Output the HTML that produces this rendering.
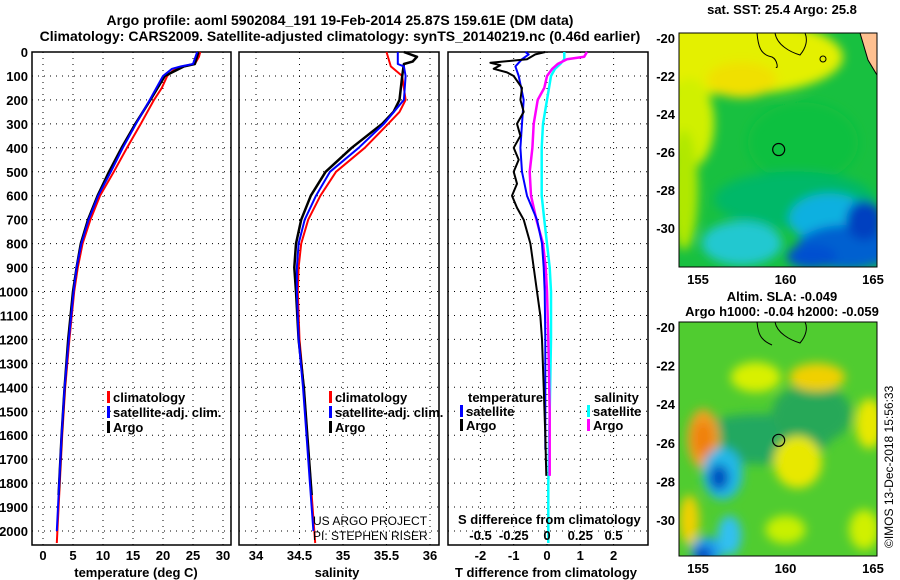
<!DOCTYPE html>
<html><head><meta charset="utf-8"><style>
html,body{margin:0;padding:0;background:#fff;}
svg{display:block;font-family:"Liberation Sans",sans-serif;font-weight:bold;font-size:13px;}
</style></head><body>
<svg id="fig" width="900" height="580" viewBox="0 0 900 580" xmlns="http://www.w3.org/2000/svg">
<defs>
<filter id="blur1" x="-20%" y="-20%" width="140%" height="140%"><feGaussianBlur stdDeviation="5"/></filter>
<clipPath id="clipMap1"><rect x="679" y="33" width="198" height="234"/></clipPath>
<clipPath id="clipMap2"><rect x="679" y="322" width="198" height="234"/></clipPath>
</defs>
<text x="340" y="25" text-anchor="middle" font-size="14">Argo profile: aoml 5902084_191 19-Feb-2014 25.87S 159.61E (DM data)</text>
<text x="340" y="41" text-anchor="middle" font-size="14">Climatology: CARS2009. Satellite-adjusted climatology: synTS_20140219.nc (0.46d earlier)</text>
<g id="panels"></g>
<g id="maps"></g>
</svg>
<script>
// ---------- data ----------
const depthTicks=[0,100,200,300,400,500,600,700,800,900,1000,1100,1200,1300,1400,1500,1600,1700,1800,1900,2000];
const tempTicks=[0,5,10,15,20,25,30];
const salTicks=[34,34.5,35,35.5,36];
const tdiffTicks=[-2,-1,0,1,2];
const sdiffTicks=[-0.5,-0.25,0,0.25,0.5];
const sdiffTickLabels=["-0.5","-0.25","0","0.25","0.5"];

const tClimDepth=[0,20,50,60,70,100,150,200,300,400,500,600,700,800,900,1000,1200,1400,1600,1800,2000,2050];
const tClimVal=[26.2,26.0,25.3,23.5,22,20.7,19.8,18.5,16.3,14,11.8,9.5,7.9,6.6,5.8,5.2,4.4,3.7,3.2,2.8,2.4,2.3];
const tSatDepth=[0,50,60,70,100,200,300,400,500,600,700,800,900,1000,1200,1400,1600,1800,2000];
const tSatVal=[25.7,25.0,23,21.5,20,17.8,15.5,13.3,11.3,9.2,7.6,6.4,5.6,5.1,4.3,3.6,3.1,2.7,2.3];
const tArgoDepth=[0,50,60,100,200,300,400,500,600,700,800,900,1000,1200,1400,1600,1800,1850];
const tArgoVal=[25.9,25.3,23.5,20.3,17.9,15.4,13.1,11.0,9.1,7.5,6.3,5.6,5.0,4.2,3.6,3.1,2.7,2.6];

const sClimDepth=[0,60,100,200,250,300,400,500,600,700,800,900,1000,1200,1400,1600,1800,2000,2050];
const sClimVal=[35.5,35.55,35.68,35.72,35.65,35.52,35.25,34.92,34.74,34.6,34.52,34.49,34.48,34.5,34.55,34.59,34.63,34.67,34.68];
const sSatDepth=[0,50,60,100,200,300,400,500,600,700,800,900,1000,1200,1400,1600,1800,2000];
const sSatVal=[35.63,35.63,35.7,35.72,35.7,35.47,35.18,34.85,34.69,34.56,34.49,34.47,34.47,34.49,34.54,34.58,34.62,34.66];
const sArgoDepth=[0,20,40,50,100,200,250,300,400,500,600,700,800,900,1000,1200,1400,1600,1800,1850];
const sArgoVal=[35.7,35.85,35.8,35.7,35.68,35.65,35.58,35.45,35.1,34.8,34.63,34.52,34.46,34.44,34.46,34.49,34.55,34.59,34.63,34.64];

const dTSatDepth=[0,10,30,60,100,200,300,400,500,600,700,800,900,1000,1200,1400,1660];
const dTSatVal=[-0.65,-0.55,-0.75,-0.95,-0.85,-0.7,-0.75,-0.8,-0.75,-0.6,-0.3,-0.15,-0.1,-0.07,-0.05,-0.05,-0.05];
const dTArgoDepth=[0,10,30,45,55,70,85,100,150,200,250,300,350,400,450,500,550,600,650,700,800,900,1000,1100,1200,1400,1600,1770];
const dTArgoVal=[-0.05,-0.35,-0.6,-1.7,-1.4,-1.6,-1.2,-1.0,-0.75,-0.8,-0.7,-0.9,-0.8,-1.0,-0.85,-1.0,-0.9,-1.05,-0.9,-0.7,-0.5,-0.4,-0.3,-0.2,-0.15,-0.1,-0.05,-0.02];
const dSSatDepth=[0,30,50,70,100,200,300,400,500,600,700,800,900,1000,1200,1500,1800,2050];
const dSSatVal=[0.13,0.13,0.1,0.06,0.03,0.0,-0.03,-0.04,-0.04,-0.04,-0.02,0.0,0.02,0.03,0.03,0.02,0.01,0.01];
const dSArgoDepth=[0,20,30,50,70,100,150,200,300,400,500,600,700,800,900,1000,1200,1500,1770];
const dSArgoVal=[0.3,0.28,0.15,0.08,0.04,0.0,-0.02,-0.07,-0.1,-0.11,-0.13,-0.12,-0.08,-0.03,-0.01,0.0,0.01,0.02,0.02];

const mapLonTicks=[155,160,165];
const mapLatTicks=[-20,-22,-24,-26,-28,-30];
const floatLon=159.61, floatLat=-25.87;

// ---------- helpers ----------
const NS="http://www.w3.org/2000/svg";
const P=document.getElementById('panels');
const M=document.getElementById('maps');
function mk(tag,attrs,parent){const e=document.createElementNS(NS,tag);for(const k in attrs)e.setAttribute(k,attrs[k]);(parent||P).appendChild(e);return e;}
const Y0=52,Y1=545;
const yD=d=>Y0+d*0.2395;
const panels=[
 {name:'temperature',x0:32,x1:231,sx:v=>43+v*6,ticks:tempTicks},
 {name:'salinity',x0:239,x1:439,sx:v=>256+(v-34)*87,ticks:salTicks},
 {name:'difference',x0:448,x1:648,sx:v=>547+v*33.3,ticks:tdiffTicks}
];
const sxS=v=>547+v*133;

panels.forEach((p,i)=>{
 const g=mk('g',{});
 
 
 depthTicks.forEach(d=>{const l=mk('line',{x1:p.x0,x2:p.x1,y1:yD(d),y2:yD(d),stroke:'#000','stroke-width':1,'stroke-dasharray':'1,5'},g);
  });
 p.ticks.forEach(v=>{const l=mk('line',{x1:p.sx(v),x2:p.sx(v),y1:Y0,y2:Y1,stroke:'#000','stroke-width':1,'stroke-dasharray':'1,5'},g);
  
  const t=mk('text',{x:p.sx(v),y:560,'text-anchor':'middle'},g);t.textContent=v;
  });
 const r=mk('rect',{x:p.x0,y:Y0,width:p.x1-p.x0,height:Y1-Y0,fill:'none',stroke:'#000','stroke-width':1.5},g);
 
});
depthTicks.forEach(d=>{const t=mk('text',{x:28,y:yD(d)+5,'text-anchor':'end'});t.textContent=d;
 });

function line(depths,vals,sx,color,w,name){
 const pts=depths.map((d,i)=>sx(vals[i]).toFixed(1)+','+yD(d).toFixed(1)).join(' ');
 const l=mk('polyline',{points:pts,fill:'none',stroke:color,'stroke-width':w,'stroke-linejoin':'round'});
 
}
const p1=panels[0].sx,p2=panels[1].sx,p3=panels[2].sx;
line(tClimDepth,tClimVal,p1,'#f00',2,'temperature-climatology-line');
line(tArgoDepth,tArgoVal,p1,'#000',2.5,'temperature-argo-line');
line(tSatDepth,tSatVal,p1,'#00f',2,'temperature-satellite-line');
line(sClimDepth,sClimVal,p2,'#f00',2,'salinity-climatology-line');
line(sArgoDepth,sArgoVal,p2,'#000',2.5,'salinity-argo-line');
line(sSatDepth,sSatVal,p2,'#00f',2,'salinity-satellite-line');
line(dSSatDepth,dSSatVal,sxS,'#0ff',2.5,'salinity-diff-satellite-line');
line(dSArgoDepth,dSArgoVal,sxS,'#f0f',2.5,'salinity-diff-argo-line');
line(dTSatDepth,dTSatVal,p3,'#00f',2,'temperature-diff-satellite-line');
line(dTArgoDepth,dTArgoVal,p3,'#000',2,'temperature-diff-argo-line');

function legend(x,y,color,label,name){
 const b=mk('rect',{x:x,y:y-11,width:3,height:12,fill:color});
 
 const t=mk('text',{x:x+6,y:y});t.textContent=label;
 
}
legend(107,402,'#f00','climatology','legend-climatology');legend(329,402,'#f00','climatology','legend-climatology-sal');
legend(107,417,'#00f','satellite-adj. clim.','legend-satellite');legend(329,417,'#00f','satellite-adj. clim.','legend-satellite-sal');
legend(107,432,'#000','Argo','legend-argo');legend(329,432,'#000','Argo','legend-argo-sal');
let t=mk('text',{x:468,y:402});t.textContent='temperature';
legend(460,416,'#00f','satellite','legend-t-satellite');legend(460,430,'#000','Argo','legend-t-argo');
t=mk('text',{x:594,y:402});t.textContent='salinity';
legend(587,416,'#0ff','satellite','legend-s-satellite');legend(587,430,'#f0f','Argo','legend-s-argo');

t=mk('text',{x:136,y:577,'text-anchor':'middle'});t.textContent='temperature (deg C)';
t=mk('text',{x:337,y:577,'text-anchor':'middle'});t.textContent='salinity';
t=mk('text',{x:546,y:577,'text-anchor':'middle'});t.textContent='T difference from climatology';
t=mk('text',{x:458,y:524});t.textContent='S difference from climatology';
sdiffTicks.forEach((v,i)=>{const tt=mk('text',{x:sxS(v),y:540,'text-anchor':'middle'});tt.textContent=sdiffTickLabels[i];
 });
t=mk('text',{x:313,y:525,'font-weight':'normal','font-size':12});t.textContent='US ARGO PROJECT';
t=mk('text',{x:313,y:540,'font-weight':'normal','font-size':12});t.textContent='PI: STEPHEN RISER';

// ---------- maps ----------
function map(top,latTop,scaleLat,name,clip,blobs,base){
 const g=mk('g',{},M);
 const lon=v=>698+(v-155)*17.5, lat=v=>latTop+(-20-v)*scaleLat;
 const inner=mk('g',{'clip-path':'url(#'+clip+')'},g);
 mk('rect',{x:679,y:top,width:198,height:234,fill:base},inner);
 const bg=mk('g',{filter:'url(#blur1)'},inner);
 blobs.forEach(b=>mk('ellipse',{cx:lon(b[0]),cy:lat(b[1]),rx:b[2],ry:b[3],fill:b[4]},bg));
 return {g,inner,lon,lat};
}
const m1=map(33,38,19,'sst-map','clipMap1',[
 [157,-21,110,38,'#e4f000'],[154.5,-24.5,25,45,'#d0f000'],[157.5,-22.2,35,18,'#f0e000'],[154.2,-28,14,60,'#b0e800'],
 [161,-25.5,55,40,'#10c040'],[160.5,-28.5,80,28,'#00b868'],[157.5,-30.8,40,22,'#20c8d0'],
 [162.5,-29.5,40,25,'#10b0e0'],[163.5,-31,50,22,'#0060d0'],[164.5,-29.6,18,20,'#0040c0'],[161.5,-31.5,25,12,'#0050d0']
],'#18c040');
mk('path',{d:'M860,33 L877,33 L877,75 L868,60 Z',fill:'#ffc090',stroke:'#000','stroke-width':1},m1.inner);
mk('path',{d:'M757,33 C758,45 760,55 772,57 C778,60 778,70 776,67 M775,33 C777,45 790,52 800,55 C806,48 808,40 805,33',fill:'none',stroke:'#000','stroke-width':1},m1.inner);
mk('circle',{cx:823,cy:59,r:3,fill:'none',stroke:'#000'},m1.inner);
const m2=map(322,327,19.3,'sla-map','clipMap2',[
 [158.5,-25.8,70,25,'#20a860'],[161.5,-24.5,40,30,'#28a858'],
 [155.3,-25.8,16,30,'#f0a020'],[155.3,-25.8,10,18,'#f08010'],
 [156.4,-27.6,20,26,'#20b8e8'],[156.2,-27.8,10,13,'#0050c0'],
 [160.7,-27,24,26,'#e8e800'],[161.8,-22.6,28,14,'#f0d000'],[158.3,-22.6,25,15,'#d8f000'],
 [155.5,-31.6,16,14,'#20a0f0'],[155.3,-31.8,9,8,'#0040c0'],[156.8,-30.8,12,20,'#30c0f0'],
 [164.8,-25,14,25,'#e8e800'],[154.5,-30,10,25,'#f0d000'],[160,-30.5,20,14,'#c8f000'],[164.5,-30.5,15,20,'#d0f000']
],'#50cc30');
mk('path',{d:'M757,322 C758,333 760,340 772,345 M775,322 C777,333 790,340 800,343 C806,336 808,328 805,322',fill:'none',stroke:'#000','stroke-width':1},m2.inner);
[m1,m2].forEach((m,i)=>{
 const top=i===0?33:322;
 const c=mk('circle',{cx:m.lon(floatLon),cy:m.lat(floatLat),r:6,fill:'none',stroke:'#000','stroke-width':1.2},m.g);
 
 const f=mk('rect',{x:679,y:top,width:198,height:234,fill:'none',stroke:'#000'},m.g);
 
 mapLonTicks.forEach(v=>{const tt=mk('text',{x:m.lon(v),y:top+251,'text-anchor':'middle'},m.g);tt.textContent=v;
  });
 mapLatTicks.forEach(v=>{const y=m.lat(v);if(y<top-6||y>top+234)return;
  const tt=mk('text',{x:675,y:y+5,'text-anchor':'end'},m.g);tt.textContent=v;
  });
});
t=mk('text',{x:782,y:14,'text-anchor':'middle'},M);t.textContent='sat. SST: 25.4 Argo: 25.8';
t=mk('text',{x:782,y:301,'text-anchor':'middle'},M);t.textContent='Altim. SLA: -0.049';
t=mk('text',{x:782,y:316,'text-anchor':'middle'},M);t.textContent='Argo h1000: -0.04 h2000: -0.059';
t=mk('text',{x:893,y:548,transform:'rotate(-90 893 548)','font-weight':'normal','font-size':12},M);t.textContent='©IMOS 13-Dec-2018 15:56:33';
</script>
</body></html>
